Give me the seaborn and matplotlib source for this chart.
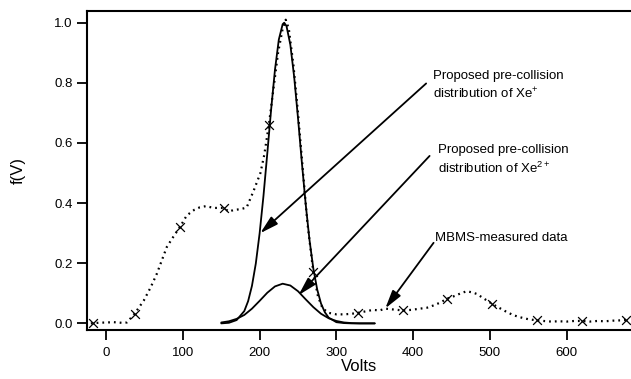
import matplotlib
matplotlib.use("Agg")
import matplotlib.pyplot as plt
import seaborn as sns
import pandas as pd

# ---- data ----
mbms_v = [-20, -10, 0, 10, 20, 27, 37, 49, 58, 66, 79, 88, 96, 105, 115, 122, 130, 140,
          153, 160, 166, 175, 183, 192, 201, 206, 212, 218, 224, 230, 234, 238, 244, 250,
          256, 262, 270, 276, 282, 290, 300, 310, 320, 328, 338, 348, 356, 364, 375, 387,
          398, 409, 418, 427, 436, 444, 455, 462, 470, 477, 483, 492, 503, 512, 522, 531,
          540, 550, 561, 570, 580, 590, 600, 610, 620, 630, 640, 650, 660, 670, 678]
mbms_f = [0.0, 0.002, 0.003, 0.004, 0.002, 0.003, 0.032, 0.076, 0.12, 0.165, 0.254, 0.29,
          0.32, 0.359, 0.378, 0.386, 0.39, 0.384, 0.384, 0.372, 0.377, 0.38, 0.385, 0.44,
          0.50, 0.56, 0.66, 0.78, 0.90, 0.98, 1.01, 0.98, 0.86, 0.70, 0.52, 0.34, 0.17,
          0.09, 0.05, 0.035, 0.030, 0.030, 0.032, 0.035, 0.040, 0.045, 0.043, 0.049, 0.046,
          0.043, 0.045, 0.049, 0.052, 0.060, 0.070, 0.082, 0.092, 0.100, 0.107, 0.103,
          0.098, 0.083, 0.065, 0.052, 0.038, 0.027, 0.020, 0.014, 0.010, 0.008, 0.006,
          0.007, 0.006, 0.008, 0.008, 0.006, 0.008, 0.007, 0.009, 0.010, 0.012]

marker_v = [-17, 37, 96, 153, 212, 270, 328, 387, 444, 503, 561, 620, 678]
marker_f = [0.0, 0.032, 0.32, 0.384, 0.66, 0.17, 0.035, 0.043, 0.082, 0.065, 0.010, 0.008, 0.012]

xe1_v = [150, 160, 170, 180, 185, 190, 195, 200, 205, 210, 215, 220, 225, 230, 232, 235, 240,
         245, 250, 255, 260, 265, 270, 275, 280, 285, 290, 300, 310, 320, 330, 340, 350]
xe1_f = [0.0, 0.002, 0.011, 0.041, 0.074, 0.125, 0.199, 0.30, 0.424, 0.566, 0.712, 0.844,
         0.944, 0.995, 1.0, 0.989, 0.927, 0.820, 0.683, 0.536, 0.397, 0.277, 0.182, 0.113,
         0.066, 0.037, 0.019, 0.004, 0.001, 0.0, 0.0, 0.0, 0.0]

xe2_v = [150, 160, 170, 180, 190, 200, 210, 220, 230, 240, 250, 260, 270, 280, 290, 300,
         310, 320, 330, 340, 350]
xe2_f = [0.003, 0.007, 0.015, 0.028, 0.049, 0.075, 0.102, 0.123, 0.132, 0.126, 0.107,
         0.080, 0.054, 0.032, 0.017, 0.008, 0.003, 0.001, 0.0, 0.0, 0.0]

x_ticks = [0, 100, 200, 300, 400, 500, 600]
y_ticks = [0.0, 0.2, 0.4, 0.6, 0.8, 1.0]

labels = ["Proposed pre-collision\ndistribution of Xe$^{\\mathrm{+}}$",
          "Proposed pre-collision\ndistribution of Xe$^{\\mathrm{2+}}$",
          "MBMS-measured data"]

# ---- style ----
sns.set_style("ticks")
plt.rcParams['font.family'] = ['Liberation Sans', 'DejaVu Sans']
plt.rcParams['mathtext.fontset'] = 'custom'
plt.rcParams['mathtext.rm'] = 'Liberation Sans'
plt.rcParams['mathtext.it'] = 'Liberation Sans'
for key in ['text.color', 'axes.labelcolor', 'xtick.color', 'ytick.color',
            'xtick.labelcolor', 'ytick.labelcolor', 'axes.edgecolor']:
    plt.rcParams[key] = 'black'

fig = plt.figure(figsize=(6.31, 3.79), dpi=100)
ax = fig.add_axes([87 / 631, 1 - 330 / 379, (631 - 87) / 631, (330 - 11) / 379])

mbms = pd.DataFrame({"V": mbms_v, "f": mbms_f})
marks = pd.DataFrame({"V": marker_v, "f": marker_f})
xe1 = pd.DataFrame({"V": xe1_v, "f": xe1_f})
xe2 = pd.DataFrame({"V": xe2_v, "f": xe2_f})

sns.lineplot(data=xe1, x="V", y="f", ax=ax, color="black", linewidth=1.3, sort=False)
sns.lineplot(data=xe2, x="V", y="f", ax=ax, color="black", linewidth=1.3, sort=False)
sns.lineplot(data=mbms, x="V", y="f", ax=ax, color="black", linewidth=1.6,
             linestyle=(0, (0.8, 1.8)), sort=False)
sns.scatterplot(data=marks, x="V", y="f", ax=ax, marker="x", color="black", s=40,
                linewidth=0.9, zorder=5)

ax.set_xlim(-25, 684)
ax.set_ylim(-0.022, 1.039)
ax.set_xticks(x_ticks)
ax.set_yticks(y_ticks)
ax.set_yticklabels([f"{t:.1f}" for t in y_ticks])
ax.set_xlabel("Volts", fontsize=12, labelpad=0, color="black")
ax.set_ylabel("f(V)", fontsize=12, labelpad=20, color="black")
ax.tick_params(axis="both", direction="out", length=7.5, width=1.3, labelsize=9.5, pad=3,
               colors="black")
ax.tick_params(axis="x", pad=5)

for side in ["left", "bottom", "top"]:
    ax.spines[side].set_linewidth(1.5)
    ax.spines[side].set_color("black")
ax.spines["right"].set_visible(False)

arrow_kw = dict(arrowstyle="-|>,head_length=1.1,head_width=0.3", color="black",
                lw=1.3, shrinkA=0, shrinkB=0, mutation_scale=10)

text_pos = [(426, 0.79), (432, 0.543), (429, 0.285)]
arrow_from = [(417, 0.798), (421.5, 0.557), (426.7, 0.268)]
arrow_to = [(200.8, 0.30), (250.7, 0.094), (363.8, 0.05)]

for lab, tp, af, at in zip(labels, text_pos, arrow_from, arrow_to):
    ax.text(tp[0], tp[1], lab, fontsize=9.5, ha="left", va="center", linespacing=1.35,
            color="black")
    ax.annotate("", xy=at, xytext=af, arrowprops=arrow_kw)

fig.savefig("out.png", dpi=100)
